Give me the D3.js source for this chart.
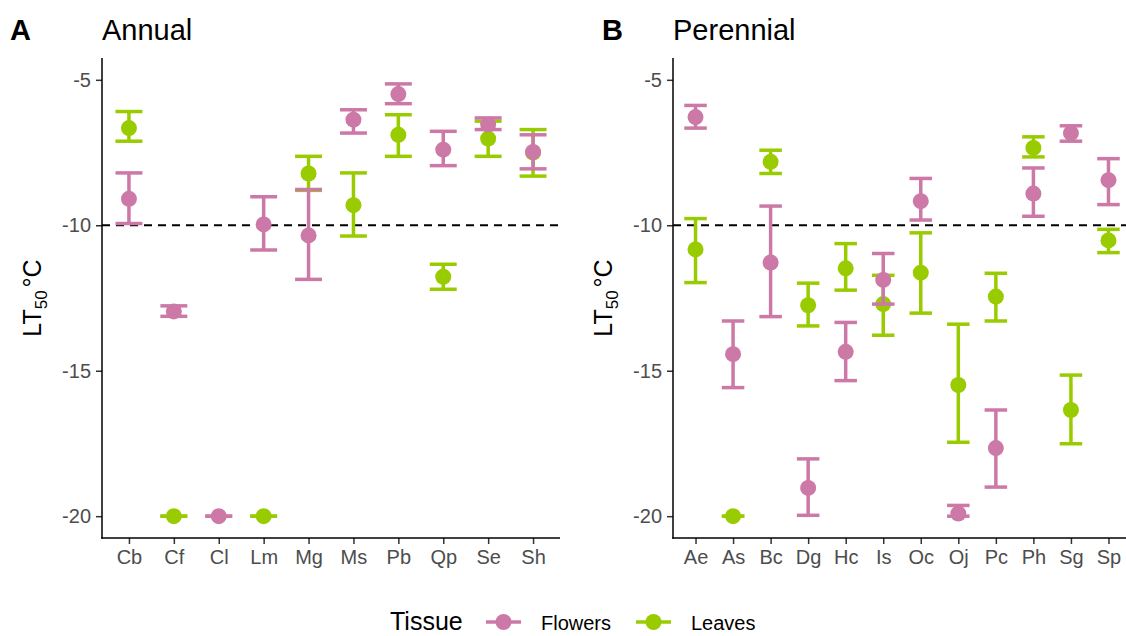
<!DOCTYPE html>
<html>
<head>
<meta charset="utf-8">
<script src="https://cdn.jsdelivr.net/npm/d3@7"></script>
<style>
  body { margin: 0; background: #fff; }
  svg { font-family: 'Liberation Sans', Arial, sans-serif; display: block; }
</style>
</head>
<body>
<div id="chart"></div>
<script>
// Annual species
const annualSpecies = ['Cb', 'Cf', 'Cl', 'Lm', 'Mg', 'Ms', 'Pb', 'Qp', 'Se', 'Sh']
const annualFlowersMean = [-9.09, -12.96, -20, -9.97, -10.35, -6.37, -5.49, -7.4, -6.54, -7.48]
const annualFlowersLow = [-9.94, -13.13, -20, -10.85, -11.86, -6.83, -5.82, -7.95, -6.71, -8.06]
const annualFlowersHigh = [-8.2, -12.77, -20, -9.02, -8.77, -6.03, -5.14, -6.77, -6.31, -6.89]
const annualLeavesMean = [-6.66, -20, null, -20, -8.22, -9.31, -6.89, -11.77, -7.02, -7.5]
const annualLeavesLow = [-7.11, -20, null, -20, -8.8, -10.37, -7.63, -12.2, -7.63, -8.31]
const annualLeavesHigh = [-6.09, -20, null, -20, -7.63, -8.2, -6.2, -11.34, -6.42, -6.71]

// Perennial species
const perennialSpecies = ['Ae', 'As', 'Bc', 'Dg', 'Hc', 'Is', 'Oc', 'Oj', 'Pc', 'Ph', 'Sg', 'Sp']
const perennialFlowersMean = [-6.28, -14.43, -11.28, -19.03, -14.35, -11.88, -9.17, -19.91, -17.66, -8.91, -6.83, -8.45]
const perennialFlowersLow = [-6.66, -15.58, -13.14, -19.97, -15.34, -12.71, -9.82, -20.0, -19.0, -9.69, -7.11, -9.29]
const perennialFlowersHigh = [-5.88, -13.29, -9.34, -18.03, -13.34, -10.97, -8.39, -19.63, -16.35, -8.03, -6.58, -7.71]
const perennialLeavesMean = [-10.83, -20, -7.82, -12.75, -11.48, -12.71, -11.63, -15.49, -12.45, -7.34, -16.35, -10.52]
const perennialLeavesLow = [-11.97, -20, -8.22, -13.46, -12.23, -13.78, -13.02, -17.46, -13.29, -7.65, -17.51, -10.94]
const perennialLeavesHigh = [-9.77, -20, -7.42, -11.99, -10.63, -11.72, -10.26, -13.4, -11.65, -6.96, -15.15, -10.14]

const yTicks = [-5, -10, -15, -20]
const tissues = ['Flowers', 'Leaves']
const colors = { Flowers: '#CC79A7', Leaves: '#99CC00' }

const width = 1126
const height = 636

const svg = d3
  .select('#chart')
  .append('svg')
  .attr('width', width)
  .attr('height', height)

svg.append('rect').attr('width', width).attr('height', height).attr('fill', '#fff')

const yScale = d3.scaleLinear().domain([-20.75, -4.25]).range([538, 58])

function rows(species, mean, low, high, tissue) {
  return species
    .map((s, i) => ({ species: s, mean: mean[i], low: low[i], high: high[i], tissue: tissue }))
    .filter(d => d.mean !== null)
}

function drawPanel(opts) {
  const left = opts.left
  const right = left + 458
  const xScale = d3.scalePoint().domain(opts.species).range([left, right]).padding(0.6)
  const step = xScale.step()
  const capHalf = step * 0.3

  const g = svg.append('g')

  // tag and title
  g.append('text')
    .attr('x', opts.tagX)
    .attr('y', 40)
    .attr('font-size', 29)
    .attr('font-weight', 'bold')
    .text(opts.tag)
  g.append('text')
    .attr('x', left)
    .attr('y', 40)
    .attr('font-size', 29)
    .text(opts.title)

  // y title
  const yt = g.append('text')
    .attr('transform', 'translate(' + (left - 61) + ',298) rotate(-90)')
    .attr('text-anchor', 'middle')
    .attr('font-size', 25)
  yt.append('tspan').text('LT')
  yt.append('tspan').attr('font-size', 17).attr('dy', 6).text('50')
  yt.append('tspan').attr('dy', -6).attr('dx', 3).text('°C')

  // axes
  const yAxis = d3.axisLeft(yScale).tickValues(yTicks).tickSize(6).tickPadding(5).tickFormat(d3.format('d'))
  const ya = g.append('g').attr('transform', 'translate(' + left + ',0)').call(yAxis)
  ya.select('.domain').remove()
  ya.selectAll('.tick line').attr('stroke', '#333').attr('stroke-width', 1.5)
  ya.selectAll('.tick text')
    .attr('font-size', 20)
    .attr('fill', '#4D4D4D')
    .attr('font-family', "'Liberation Sans', Arial, sans-serif")
    .text(d => d < 0 ? '-' + Math.abs(d) : d)

  const xAxis = d3.axisBottom(xScale).tickSize(6).tickPadding(6)
  const xa = g.append('g').attr('transform', 'translate(0,538)').call(xAxis)
  xa.select('.domain').remove()
  xa.selectAll('.tick line').attr('stroke', '#333').attr('stroke-width', 1.5)
  xa.selectAll('.tick text')
    .attr('font-size', 20)
    .attr('fill', '#4D4D4D')
    .attr('font-family', "'Liberation Sans', Arial, sans-serif")

  g.append('line')
    .attr('x1', left).attr('x2', left)
    .attr('y1', 58).attr('y2', 538.75)
    .attr('stroke', '#000').attr('stroke-width', 1.5)
  g.append('line')
    .attr('x1', left - 0.75).attr('x2', right)
    .attr('y1', 538).attr('y2', 538)
    .attr('stroke', '#000').attr('stroke-width', 1.5)

  // reference line at -10
  g.append('line')
    .attr('x1', left).attr('x2', right)
    .attr('y1', yScale(-10)).attr('y2', yScale(-10))
    .attr('stroke', '#000')
    .attr('stroke-width', 2)
    .attr('stroke-dasharray', '8,6')

  // leaves first, flowers drawn on top
  const data = opts.leaves.concat(opts.flowers)

  const bars = g.selectAll('.bar')
    .data(data)
    .enter()
    .append('g')
    .attr('class', 'bar')
    .attr('stroke', d => colors[d.tissue])
    .attr('fill', d => colors[d.tissue])

  bars.append('line')
    .attr('x1', d => xScale(d.species))
    .attr('x2', d => xScale(d.species))
    .attr('y1', d => yScale(d.low))
    .attr('y2', d => yScale(d.high))
    .attr('stroke-width', 3.5)
  bars.append('line')
    .attr('x1', d => xScale(d.species) - capHalf)
    .attr('x2', d => xScale(d.species) + capHalf)
    .attr('y1', d => yScale(d.low))
    .attr('y2', d => yScale(d.low))
    .attr('stroke-width', 3.5)
  bars.append('line')
    .attr('x1', d => xScale(d.species) - capHalf)
    .attr('x2', d => xScale(d.species) + capHalf)
    .attr('y1', d => yScale(d.high))
    .attr('y2', d => yScale(d.high))
    .attr('stroke-width', 3.5)
  bars.append('circle')
    .attr('cx', d => xScale(d.species))
    .attr('cy', d => yScale(d.mean))
    .attr('r', 8)
    .attr('stroke', 'none')
}

drawPanel({
  left: 102,
  tag: 'A',
  tagX: 10,
  title: 'Annual',
  species: annualSpecies,
  flowers: rows(annualSpecies, annualFlowersMean, annualFlowersLow, annualFlowersHigh, 'Flowers'),
  leaves: rows(annualSpecies, annualLeavesMean, annualLeavesLow, annualLeavesHigh, 'Leaves')
})

drawPanel({
  left: 673,
  tag: 'B',
  tagX: 602,
  title: 'Perennial',
  species: perennialSpecies,
  flowers: rows(perennialSpecies, perennialFlowersMean, perennialFlowersLow, perennialFlowersHigh, 'Flowers'),
  leaves: rows(perennialSpecies, perennialLeavesMean, perennialLeavesLow, perennialLeavesHigh, 'Leaves')
})

// legend
const legend = svg.append('g')
legend.append('text')
  .attr('x', 390)
  .attr('y', 630)
  .attr('font-size', 25)
  .text('Tissue')

const keyX = [486, 636]
tissues.forEach((t, i) => {
  const k = legend.append('g')
  k.append('line')
    .attr('x1', keyX[i]).attr('x2', keyX[i] + 35)
    .attr('y1', 622).attr('y2', 622)
    .attr('stroke', colors[t]).attr('stroke-width', 3.5)
  k.append('circle')
    .attr('cx', keyX[i] + 17.5).attr('cy', 622).attr('r', 8)
    .attr('fill', colors[t])
  k.append('text')
    .attr('x', keyX[i] + 55)
    .attr('y', 630)
    .attr('font-size', 20)
    .text(t)
})
</script>
</body>
</html>
